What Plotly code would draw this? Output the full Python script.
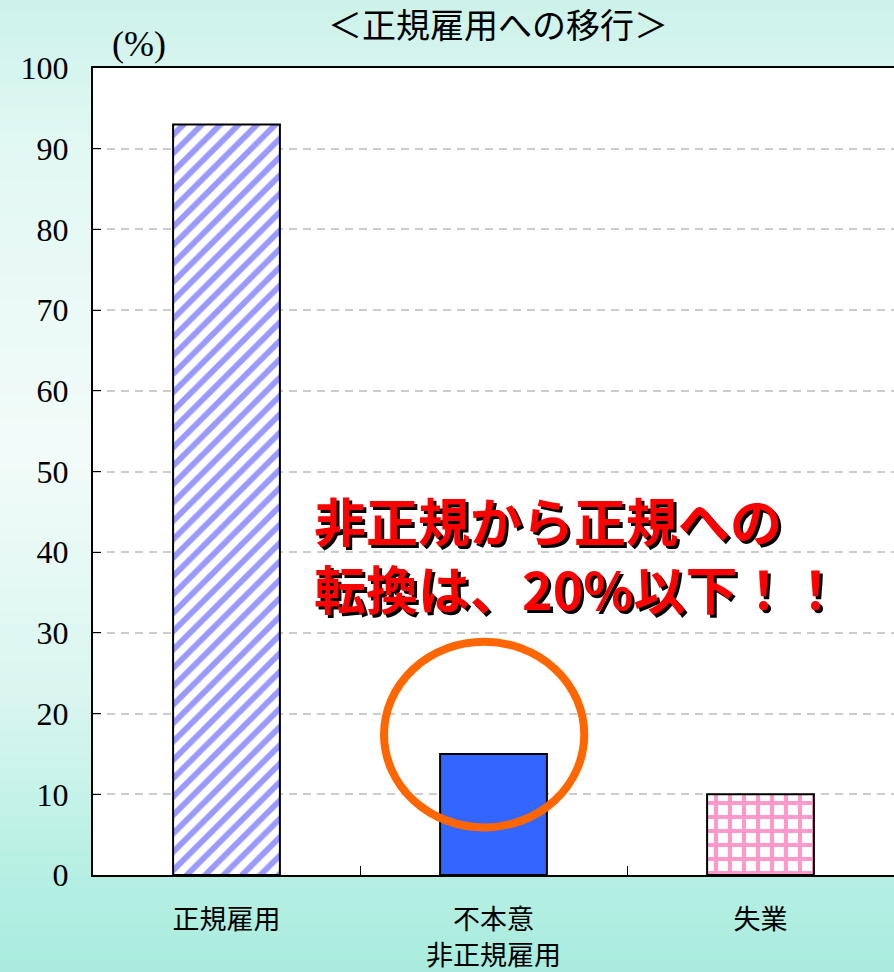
import plotly.graph_objects as go

categories = ["正規雇用", "不本意<br>非正規雇用", "失業"]
values = [93, 15, 10]
y_ticks = [0, 10, 20, 30, 40, 50, 60, 70, 80, 90, 100]
title_text = "＜正規雇用への移行＞"
unit_text = "(%)"
callout_text = "非正規から正規への<br>転換は、20%以下！！"

W, H = 894, 972
ML, MR, MT, MB = 93, 0, 68, 97

# background gradient stops (pixel y, rgb)
grad_stops = [
    (0, (204, 242, 234)),
    (150, (226, 248, 243)),
    (450, (242, 251, 249)),
    (700, (216, 246, 239)),
    (875, (182, 239, 227)),
    (972, (168, 236, 221)),
]

def interp(yp):
    for (y0, c0), (y1, c1) in zip(grad_stops[:-1], grad_stops[1:]):
        if y0 <= yp <= y1:
            t = (yp - y0) / (y1 - y0) if y1 > y0 else 0
            return tuple(round(c0[i] + (c1[i] - c0[i]) * t) for i in range(3))
    return grad_stops[-1][1]

shapes = []
n_strips = 81
step = H / n_strips
for i in range(n_strips):
    ytop = i * step
    ybot = (i + 1) * step
    c = interp((ytop + ybot) / 2)
    shapes.append(dict(
        type="rect", xref="paper", yref="paper",
        x0=-ML / (W - ML - MR) - 0.01, x1=1.01,
        y0=1 - (ybot - MT) / (H - MT - MB) - (0.02 if i == n_strips - 1 else 0.001),
        y1=1 - (ytop - MT) / (H - MT - MB) + (0.02 if i == 0 else 0.001),
        fillcolor=f"rgb{c}", line=dict(width=0), layer="below",
    ))
# white plot area
shapes.append(dict(type="rect", xref="x domain", yref="y domain",
                   x0=0, x1=1, y0=0, y1=1, fillcolor="white",
                   line=dict(width=0), layer="below"))
# orange ellipse
shapes.append(dict(type="circle", xref="x", yref="y",
                   x0=0.59, x1=1.34, y0=5.9, y1=28.9,
                   line=dict(color="#ff6600", width=8), layer="above"))

bar_styles = [
    dict(color="white", pattern=dict(shape="/", fgcolor="#9999ff", bgcolor="white",
                                     size=13, solidity=0.45, fillmode="replace")),
    dict(color="#3366ff", pattern=None),
    dict(color="white", pattern=dict(shape="+", fgcolor="#ff99cc", bgcolor="white",
                                     size=14, solidity=0.5, fillmode="replace")),
]

fig = go.Figure()
for cat, val, st in zip(categories, values, bar_styles):
    marker = dict(color=st["color"], line=dict(color="black", width=2))
    if st["pattern"]:
        marker["pattern"] = st["pattern"]
    fig.add_trace(go.Bar(x=[cat], y=[val], width=0.4, marker=marker,
                         showlegend=False, hoverinfo="skip"))

fig.update_layout(
    width=W, height=H,
    margin=dict(l=ML, r=MR, t=MT, b=MB),
    paper_bgcolor="rgb(176,238,224)",
    plot_bgcolor="white",
    shapes=shapes,
    barmode="overlay",
    xaxis=dict(
        type="category", categoryorder="array", categoryarray=categories,
        automargin=False,
        showline=True, linecolor="black", linewidth=2, mirror=True,
        ticks="inside", tickson="boundaries", ticklen=9, tickcolor="black", tickwidth=1,
        tickfont=dict(family="Noto Sans CJK JP", size=27, color="black"),
        ticklabelstandoff=20,
        showgrid=False, range=[-0.5, 2.5],
    ),
    yaxis=dict(
        range=[0, 100], tickvals=y_ticks, ticktext=[str(v) for v in y_ticks],
        automargin=False,
        showline=True, linecolor="black", linewidth=2, mirror=False,
        ticks="inside", ticklen=8, tickcolor="black", tickwidth=1,
        tickfont=dict(family="Liberation Serif", size=32, color="black"),
        ticklabelstandoff=16,
        showgrid=True, gridcolor="#cccccc", gridwidth=1.5, griddash="8px,6px",
        zeroline=False,
    ),
    annotations=[
        dict(text=title_text, xref="paper", yref="paper",
             x=(498 - ML) / (W - ML - MR), y=1 + (MT - 24) / (H - MT - MB),
             xanchor="center", yanchor="middle", showarrow=False, borderpad=0,
             font=dict(family="Noto Sans CJK JP", size=34, color="black")),
        dict(text=unit_text, xref="paper", yref="paper",
             x=(139 - ML) / (W - ML - MR), y=1 + (MT - 44) / (H - MT - MB),
             xanchor="center", yanchor="middle", showarrow=False,
             font=dict(family="Liberation Serif", size=36, color="black")),
        dict(text=callout_text, xref="paper", yref="y",
             x=(312 - ML) / (W - ML - MR), y=39.8,
             xanchor="left", yanchor="middle", align="left", showarrow=False,
             font=dict(family="Noto Sans CJK JP", size=52, color="#ff0000",
                       weight="bold", shadow="3px 3px 0px #000000")),
    ],
)

fig.write_html("out.html", config={"displayModeBar": False},
               post_script="document.body.style.margin='0';document.body.style.overflow='hidden';")
